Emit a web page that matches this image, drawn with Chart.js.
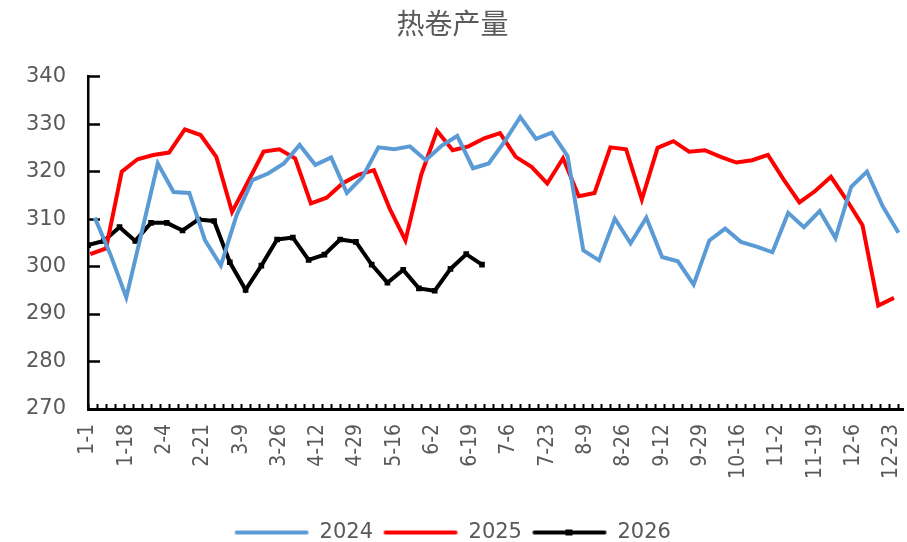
<!DOCTYPE html>
<html><head><meta charset="utf-8">
<script src="https://cdn.jsdelivr.net/npm/chart.js@4.4.1/dist/chart.umd.min.js"></script>
<style>html,body{margin:0;padding:0;background:#fff}#wrap{width:907px;height:542px}</style>
</head><body><div id="wrap"><canvas id="c" width="907" height="542"></canvas></div>
<script>
// ---- data ----
const tickLabels = ['1-1','1-18','2-4','2-21','3-9','3-26','4-12','4-29','5-16','6-2','6-19','7-6','7-23','8-9','8-26','9-12','9-29','10-16','11-2','11-19','12-6','12-23'];
const labelStepDays = 17;
const seriesNames = ['2024','2025','2026'];
const startDay2024 = 3;   // first weekly reading (day of year, 0 = Jan 1)
const startDay2025 = 1;
const startDay2026 = 0;
const values2024 = [310.3,302.5,293.5,307.5,321.7,315.7,315.5,305.5,300.2,310.8,318.2,319.6,321.7,325.6,321.4,323.0,315.5,318.9,325.1,324.7,325.3,322.4,325.4,327.5,320.7,321.7,326.3,331.5,326.9,328.2,323.3,303.4,301.3,310.1,304.9,310.3,302.0,301.1,296.2,305.5,308.0,305.2,304.2,303.0,311.3,308.3,311.7,306.0,316.8,320.0,312.7,307.1];
const values2025 = [302.6,303.8,320.0,322.6,323.5,324.0,328.9,327.7,323.1,311.5,317.8,324.2,324.7,322.8,313.3,314.5,317.5,319.3,320.3,312.2,305.5,319.3,328.6,324.5,325.3,327.0,328.1,323.1,321.0,317.5,322.8,314.8,315.5,325.1,324.7,314.1,325.0,326.4,324.2,324.5,323.1,321.9,322.4,323.5,318.3,313.5,315.9,318.9,314.0,308.7,291.8,293.4];
const values2026 = [304.5,305.4,308.3,305.4,309.2,309.2,307.6,309.9,309.6,300.9,295.1,300.2,305.7,306.1,301.4,302.5,305.7,305.2,300.4,296.6,299.3,295.4,294.9,299.5,302.6,300.4];

// ---- helpers ----
function weekly(values, start){ return values.map((v,i)=>({x:start+7*i, y:v})); }
const GRAY = '#595959';
const colors = ['#5B9BD5','#FF0000','#000000'];
function legendImg(color, marker){
  const c = document.createElement('canvas'); c.width = 76; c.height = 10;
  const g = c.getContext('2d');
  g.strokeStyle = color; g.lineWidth = 4; g.lineCap = 'round';
  g.beginPath(); g.moveTo(3,5); g.lineTo(73,5); g.stroke();
  if (marker){ g.fillStyle = color; g.fillRect(34,2,7,6); }
  return c;
}
const legendImages = [legendImg(colors[0],false), legendImg(colors[1],false), legendImg(colors[2],true)];
const X_MAX = 362;

new Chart(document.getElementById('c'), {
  type: 'line',
  data: {
    datasets: [
      {label: seriesNames[0], data: weekly(values2024, startDay2024), borderColor: colors[0], backgroundColor: colors[0], borderWidth: 4, pointRadius: 0, tension: 0},
      {label: seriesNames[1], data: weekly(values2025, startDay2025), borderColor: colors[1], backgroundColor: colors[1], borderWidth: 4, pointRadius: 0, tension: 0},
      {label: seriesNames[2], data: weekly(values2026, startDay2026), borderColor: colors[2], backgroundColor: colors[2], borderWidth: 4, pointRadius: 4, pointStyle: 'rect', pointBorderWidth: 0, tension: 0}
    ]
  },
  options: {
    responsive: false, animation: false,
    layout: {padding: {left: 0, right: 2, top: 0, bottom: -11}},
    plugins: {
      title: {display: true, text: '热卷产量', color: GRAY,
        font: {family: '"Noto Sans CJK SC", sans-serif', size: 28, weight: 'normal'},
        padding: {top: 7, bottom: 36}},
      legend: {position: 'bottom',
        labels: {usePointStyle: true, pointStyleWidth: 75, boxHeight: 10, padding: 10, color: GRAY,
          font: {family: '"DejaVu Sans", sans-serif', size: 21},
          generateLabels(chart){
            const items = Chart.defaults.plugins.legend.labels.generateLabels(chart);
            items.forEach((it,i)=>{ it.pointStyle = legendImages[i]; });
            return items;
          }}},
      tooltip: {enabled: false}
    },
    scales: {
      x: {type: 'linear', min: 0, max: X_MAX,
        afterBuildTicks(scale){
          const set = new Set();
          for (let d = 0; d <= X_MAX; d += 4) set.add(d);
          for (let k = 0; k < tickLabels.length; k++) set.add(k*labelStepDays);
          scale.ticks = [...set].sort((a,b)=>a-b).map(v=>({value:v}));
        },
        ticks: {autoSkip: false, minRotation: 90, maxRotation: 90, padding: 20, color: GRAY,
          font: {family: '"DejaVu Sans Condensed", "DejaVu Sans", sans-serif', size: 21},
          callback: (v)=> (v % labelStepDays === 0 ? tickLabels[v/labelStepDays] : '')},
        grid: {drawOnChartArea: false, tickLength: -5, tickWidth: 2,
          tickColor: (c)=> (c.tick && c.tick.value % 4 === 0) ? '#000' : 'rgba(0,0,0,0)'},
        border: {color: '#000', width: 3},
        afterFit(s){ s.height = 103; s.paddingRight = 0; s.paddingLeft = 0; }
      },
      y: {min: 270, max: 340,
        ticks: {stepSize: 10, padding: 34, color: GRAY, font: {family: '"DejaVu Sans", sans-serif', size: 21}},
        grid: {drawOnChartArea: false, tickLength: -12, tickWidth: 2.5, tickColor: '#000'},
        border: {color: '#000', width: 2.5},
        afterFit(s){ s.width = 88; }
      }
    }
  }
});
</script></body></html>
